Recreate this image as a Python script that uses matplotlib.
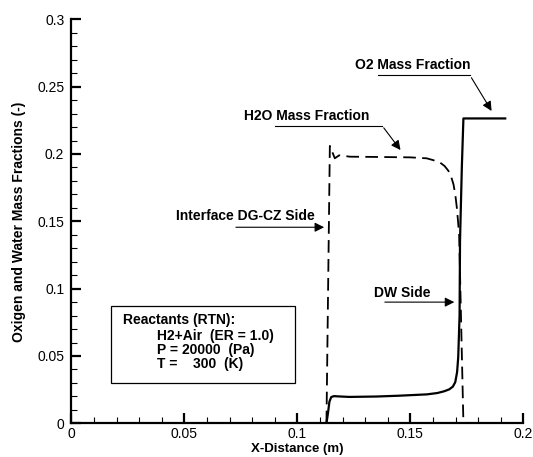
import matplotlib
matplotlib.use("Agg")
import matplotlib.pyplot as plt
from matplotlib.ticker import MultipleLocator, FuncFormatter
from matplotlib.patches import Rectangle

plt.rcParams['font.family'] = ['Liberation Sans', 'DejaVu Sans']

# H2O mass fraction (dashed) along x
h2o_x = [0.1129, 0.1144, 0.1166, 0.1185, 0.1233, 0.1350, 0.1500, 0.1572,
         0.1600, 0.1632, 0.1652, 0.1669, 0.1681, 0.1691, 0.1699, 0.1706,
         0.1716, 0.1735]
h2o_y = [0.0, 0.206, 0.1968, 0.1990, 0.1980, 0.1978, 0.1975, 0.1968,
         0.1955, 0.1936, 0.1910, 0.1874, 0.1830, 0.1775, 0.1700, 0.160,
         0.1407, 0.0]

# O2 mass fraction (solid) along x
o2_x = [0.1129, 0.1136, 0.1142, 0.1150, 0.1162, 0.1180, 0.1230, 0.1350,
        0.1450, 0.1574, 0.1620, 0.1650, 0.1672, 0.1688, 0.1699, 0.1707,
        0.1712, 0.1718, 0.1720, 0.1728, 0.1735, 0.1920]
o2_y = [0.0, 0.008, 0.016, 0.0195, 0.0202, 0.0200, 0.0196, 0.0199,
        0.0205, 0.0215, 0.0225, 0.0238, 0.0252, 0.0272, 0.0306, 0.038,
        0.049, 0.080, 0.1356, 0.190, 0.2264, 0.2264]

box_lines = ["H2+Air  (ER = 1.0)", "P = 20000  (Pa)", "T =    300  (K)"]

fig = plt.figure(figsize=(5.33, 4.57), dpi=100)
ax = fig.add_axes([0.1338, 0.0737, 0.848, 0.884])

ax.plot(h2o_x, h2o_y, color='black', lw=1.3, dashes=(7, 3.5))
ax.plot(o2_x, o2_y, color='black', lw=1.6)

ax.set_xlim(0, 0.2)
ax.set_ylim(0, 0.3)
ax.xaxis.set_major_locator(MultipleLocator(0.05))
ax.xaxis.set_minor_locator(MultipleLocator(0.01))
ax.yaxis.set_major_locator(MultipleLocator(0.05))
ax.yaxis.set_minor_locator(MultipleLocator(0.01))
fmt = FuncFormatter(lambda v, p: '0' if abs(v) < 1e-9 else ('%g' % round(v, 3)))
ax.xaxis.set_major_formatter(fmt)
ax.yaxis.set_major_formatter(fmt)

for s in ['top', 'right']:
    ax.spines[s].set_visible(False)
for s in ['left', 'bottom']:
    ax.spines[s].set_linewidth(1.6)
ax.tick_params(which='major', direction='in', length=7, width=1.6,
               labelsize=10, pad=5)
ax.tick_params(axis='x', which='major', pad=3)
ax.tick_params(which='minor', direction='in', length=4, width=0.8)

ax.set_xlabel('X-Distance (m)', fontsize=9.5, fontweight='bold')
ax.xaxis.set_label_coords(0.5, -0.048)
ax.set_ylabel('Oxigen and Water Mass Fractions (-)', fontsize=10,
              fontweight='bold', labelpad=8)

# annotations: text with underline leading into an arrow
akw = dict(arrowstyle='-|>', color='black', lw=0.8, mutation_scale=14)

ax.text(0.1509, 0.2658, 'O2 Mass Fraction', fontsize=10, fontweight='bold',
        ha='center', va='center')
ax.plot([0.1357, 0.1764], [0.2584, 0.2584], color='black', lw=0.8)
ax.annotate('', xy=(0.1866, 0.2302), xytext=(0.1764, 0.2584), arrowprops=akw)

ax.text(0.1043, 0.228, 'H2O Mass Fraction', fontsize=10, fontweight='bold',
        ha='center', va='center')
ax.plot([0.0901, 0.1375], [0.2211, 0.2211], color='black', lw=0.8)
ax.annotate('', xy=(0.1464, 0.2013), xytext=(0.1375, 0.2211), arrowprops=akw)

ax.text(0.0769, 0.1538, 'Interface DG-CZ Side', fontsize=10, fontweight='bold',
        ha='center', va='center')
ax.annotate('', xy=(0.1131, 0.1456), xytext=(0.0716, 0.1456), arrowprops=akw)

ax.text(0.1463, 0.0967, 'DW Side', fontsize=10, fontweight='bold',
        ha='center', va='center')
ax.annotate('', xy=(0.1707, 0.090), xytext=(0.1375, 0.090), arrowprops=akw)

# reactants box
ax.add_patch(Rectangle((0.0176, 0.0299), 0.0813, 0.0571, fill=False,
                       edgecolor='black', lw=0.9))
ax.text(0.0229, 0.0767, 'Reactants (RTN):', fontsize=10, fontweight='bold',
        ha='left', va='center')
for i, line in enumerate(box_lines):
    ax.text(0.0379, 0.0648 - i * 0.0104, line, fontsize=10, fontweight='bold',
            ha='left', va='center')

plt.savefig('out.png', dpi=100)
